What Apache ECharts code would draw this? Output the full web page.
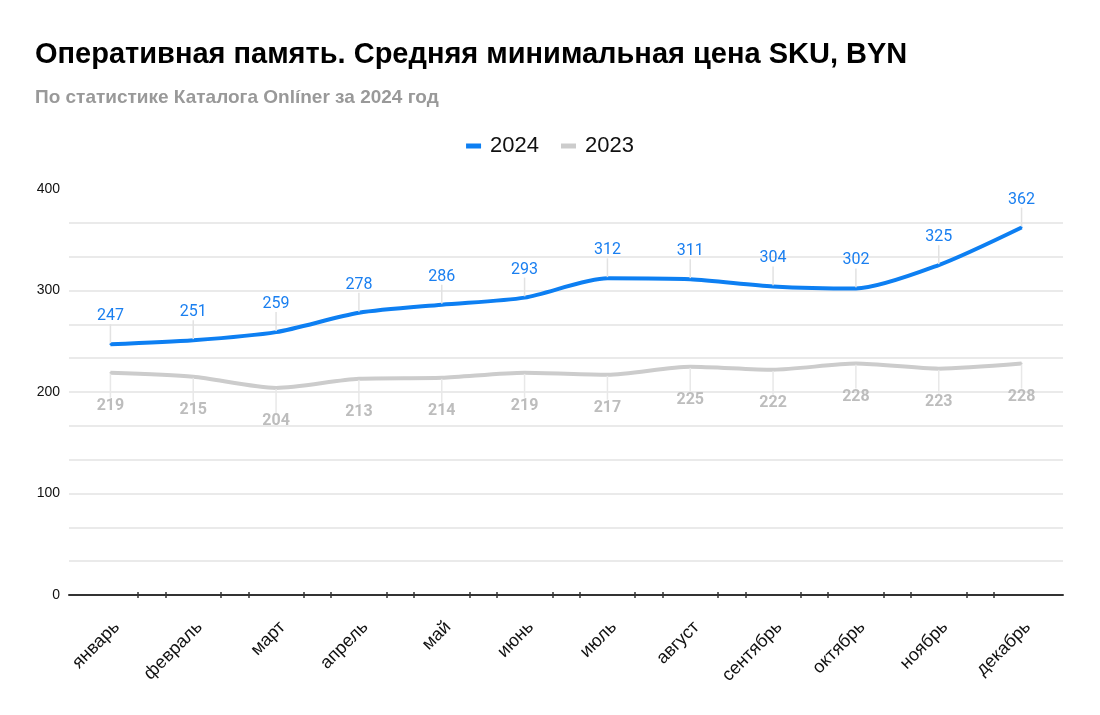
<!DOCTYPE html>
<html><head><meta charset="utf-8">
<script src="https://cdn.jsdelivr.net/npm/echarts@6/dist/echarts.min.js"></script>
<style>html,body{margin:0;padding:0;background:#fff}#c{width:1100px;height:715px}</style>
</head><body><div id="c"></div>
<script>
const categories = ['январь','февраль','март','апрель','май','июнь','июль','август','сентябрь','октябрь','ноябрь','декабрь'];
const values2024 = [247,251,259,278,286,293,312,311,304,302,325,362];
const values2023 = [219,215,204,213,214,219,217,225,222,228,223,228];
const seriesNames = ['2024','2023'];
const yMin = 0, yMax = 400, yInterval = 100;

// paired x-axis tick marks around each category boundary
const tickValues = [];
for (let k = 1; k < categories.length; k++) { tickValues.push(k - 0.165, k + 0.165); }

const chart = echarts.init(document.getElementById('c'));
const blue = '#0d7ff2', gray = '#cccccc';
chart.setOption({
  animation: false,
  title: [
    {text: 'Оперативная память. Средняя минимальная цена SKU, BYN', left: 30, top: 35,
     textStyle: {fontFamily: 'Liberation Sans', fontSize: 29, fontWeight: 'bold', color: '#000'}},
    {text: 'По статистике Каталога Onlíner за 2024 год', left: 30, top: 83,
     textStyle: {fontFamily: 'Liberation Sans', fontSize: 19, fontWeight: 'bold', color: '#999'}}
  ],
  legend: {
    top: 130, left: 'center', itemWidth: 15, itemHeight: 5, itemGap: 22, icon: 'rect',
    data: seriesNames,
    textStyle: {fontFamily: 'Liberation Sans', fontSize: 22, color: '#111', padding: [0, 0, 0, 4]}
  },
  grid: {left: 69, right: 37, top: 189, bottom: 120, containLabel: false},
  xAxis: [
    {type: 'category', data: categories, boundaryGap: true,
     axisLine: {lineStyle: {color: '#333', width: 2}},
     axisTick: {show: false},
     axisLabel: {rotate: 45, verticalAlign: 'top', fontFamily: 'Liberation Sans', fontSize: 18, color: '#111', margin: 23}},
    {type: 'value', min: 0, max: categories.length, position: 'bottom', offset: -3,
     axisLine: {show: false}, splitLine: {show: false}, axisLabel: {show: false},
     axisTick: {show: true, customValues: tickValues, length: 6, lineStyle: {color: '#333', width: 1.5}}}
  ],
  yAxis: {
    type: 'value', min: yMin, max: yMax, interval: yInterval,
    axisLine: {show: false}, axisTick: {show: false},
    axisLabel: {fontFamily: 'Liberation Sans', fontSize: 14, color: '#111', margin: 9},
    splitLine: {lineStyle: {color: ['transparent', '#e3e3e3', '#e3e3e3', '#e3e3e3', 'transparent'], width: 1.5}},
    minorTick: {show: false, splitNumber: 3},
    minorSplitLine: {show: true, lineStyle: {color: '#e3e3e3', width: 1.5}}
  },
  series: [
    {name: seriesNames[0], type: 'line', data: values2024, smooth: 0.25, xAxisIndex: 0,
     color: blue, lineStyle: {width: 4, color: blue}, symbol: 'circle', symbolSize: 2, showSymbol: true,
     itemStyle: {color: blue}, z: 3,
     label: {show: true, position: 'top', distance: 4, color: '#1a7ff0', fontFamily: 'Roboto', fontSize: 16},
     labelLayout: {dy: -15},
     labelLine: {show: true, lineStyle: {color: '#e2e2e2', width: 1.5}}},
    {name: seriesNames[1], type: 'line', data: values2023, smooth: 0.25, xAxisIndex: 0,
     color: gray, lineStyle: {width: 4, color: gray}, symbol: 'circle', symbolSize: 2, showSymbol: true,
     itemStyle: {color: gray}, z: 2,
     label: {show: true, position: 'bottom', distance: 4, color: '#bdbdbd', fontFamily: 'Roboto', fontSize: 16, fontWeight: 'bold'},
     labelLayout: {dy: 20},
     labelLine: {show: true, lineStyle: {color: '#e8e8e8', width: 1.5}}}
  ]
});
</script></body></html>
